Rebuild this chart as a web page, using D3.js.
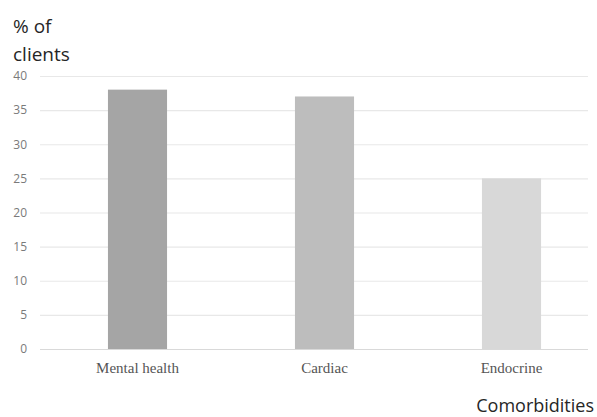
<!DOCTYPE html>
<html>
<head>
<meta charset="utf-8">
<script src="https://cdn.jsdelivr.net/npm/d3@7"></script>
<style>
html,body{margin:0;padding:0;background:#fff;}
svg{display:block;}
</style>
</head>
<body>
<svg id="chart" width="597" height="417"></svg>
<script>
const categories = ["Mental health", "Cardiac", "Endocrine"];
const values = [38, 37, 25];
const barColors = ["#a5a5a5", "#bdbdbd", "#d8d8d8"];
const yTicks = [0, 5, 10, 15, 20, 25, 30, 35, 40];
const yTitle = ["% of", "clients"];
const xTitle = "Comorbidities";

const svg = d3.select("#chart");
const y = d3.scaleLinear().domain([0, 40]).range([349, 76]);
const x = d3.scaleBand().domain(categories).range([44, 605]).paddingInner(0.684).paddingOuter(0.342);

// gridlines
const yAxis = d3.axisLeft(y).tickValues(yTicks).tickSize(-(588 - 40)).tickPadding(13);
const gy = svg.append("g").attr("transform", "translate(40,0)").call(yAxis);
gy.select(".domain").remove();
gy.selectAll(".tick line").attr("stroke", d => d === 0 ? "#d9d9d9" : "#e8e8e8").attr("stroke-width", 1.2);
gy.selectAll(".tick text").attr("fill", "#7a7a7a").attr("font-family", "Open Sans").attr("font-size", 12);

// bars
svg.append("g").selectAll("rect").data(values).join("rect")
  .attr("x", (d, i) => x(categories[i]))
  .attr("y", d => y(d))
  .attr("width", x.bandwidth())
  .attr("height", d => y(0) - y(d))
  .attr("fill", (d, i) => barColors[i]);

// x axis labels
const xAxis = d3.axisBottom(x).tickSize(0).tickPadding(13);
const gx = svg.append("g").attr("transform", "translate(0,349)").call(xAxis);
gx.select(".domain").remove();
gx.selectAll(".tick text").attr("fill", "#555").attr("font-family", "Liberation Serif").attr("font-size", 15);

// titles
svg.append("g").selectAll("text").data(yTitle).join("text")
  .attr("x", 13).attr("y", (d, i) => 33 + i * 28)
  .attr("font-family", "Open Sans").attr("font-size", 19).attr("fill", "#262626")
  .text(d => d);

svg.append("text").attr("x", 594).attr("y", 412).attr("text-anchor", "end")
  .attr("font-family", "Open Sans").attr("font-size", 18).attr("fill", "#262626")
  .text(xTitle);
</script>
</body>
</html>
